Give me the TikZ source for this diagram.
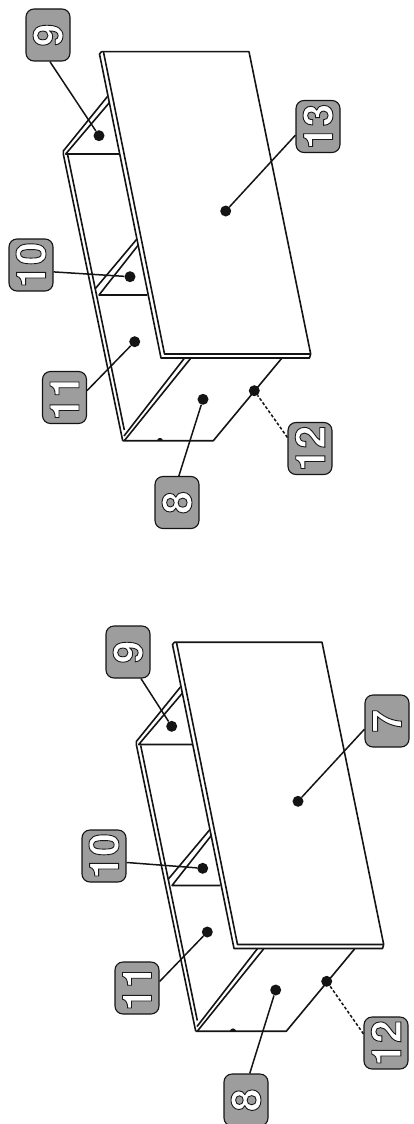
\documentclass[tikz,border=0pt]{standalone}
\usepackage{graphicx,color}
\usepackage{fontspec}
\setmainfont{TeX Gyre Heros}
\definecolor{tagfill}{RGB}{156,157,156}
\definecolor{inkline}{RGB}{20,20,20}
\newcommand{\tagnum}[1]{\rotatebox{90}{\fontsize{41}{41}\bfseries\selectfont\special{pdf:code q 2 Tr 0.9 w 0.1 G 1 g}#1\special{pdf:code Q}}}
\newcommand{\cabinet}{%
	\draw[edge] (101.5,51.7) -- (249,51.7) -- (310.7,354) -- (309.5,358) -- (161,358) -- (99.5,54) -- cycle;
	\draw[edge] (103.5,52) -- (164.5,354) -- (310.7,354);
	\draw[edge] (107.3,96.7) -- (63.3,151) -- (63.3,154) -- (122.7,440.7);
	\draw[edge] (109.3,102.7) -- (65.7,154) -- (119.3,154);
	\draw[edge] (67.7,155) -- (124.3,430);
	\draw[edge] (136.7,239.3) -- (95,289);
	\draw[edge] (138.3,245) -- (99,295) -- (147.3,295);
	\draw[edge] (184.3,358.3) -- (124,436);
	\draw[edge] (190.7,358.3) -- (124.3,440.7);
	\draw[edge] (122.7,440.7) -- (213.3,440.7) -- (281.7,358.3);
	\fill[inkline] (157,440.7) arc (180:360:3 and 2.8) -- cycle;
}
\tikzset{
	edge/.style={inkline, line width=1.6pt, line join=round},
	lead/.style={inkline, line width=1.5pt},
	tag/.style={draw=inkline, line width=1.1pt, fill=tagfill, rounded corners=8pt, minimum width=44pt, minimum height=52pt, inner sep=0pt},
	dot/.style={circle, fill=inkline, minimum size=11pt, inner sep=0pt}
}

\begin{document}
\begin{tikzpicture}[x=1pt, y=-1pt]
	\useasboundingbox (0,0) rectangle (414,1124);
	% upper cabinet
	\cabinet
	\node[dot] (dotAnine) at (99,135.7) {};
	\node[dot] (dotAthirteen) at (225.7,211) {};
	\node[dot] (dotAten) at (130,276.7) {};
	\node[dot] (dotAeleven) at (134.7,341.7) {};
	\node[dot] (dotAeight) at (203,399.3) {};
	\node[dot] (dotAtwelve) at (254.3,390.7) {};
	\node[tag] (tagAnine) at (48,35) {\tagnum{9}};
	\node[tag] (tagAthirteen) at (318,126.5) {\tagnum{13}};
	\node[tag] (tagAten) at (31,265) {\tagnum{10}};
	\node[tag] (tagAeleven) at (64.5,397.5) {\tagnum{11}};
	\node[tag] (tagAeight) at (177,502.5) {\tagnum{8}};
	\node[tag] (tagAtwelve) at (310,448.5) {\tagnum{12}};
	\draw[lead] (tagAnine.274) -- (dotAnine);
	\draw[lead] (tagAthirteen.201) -- (dotAthirteen);
	\draw[lead] (tagAten.343) -- (dotAten);
	\draw[lead] (tagAeleven.17) -- (dotAeleven);
	\draw[lead] (tagAeight.86) -- (dotAeight);
	\draw[lead, dash pattern=on 3pt off 2pt] (tagAtwelve.154) -- (dotAtwelve);
	% lower cabinet
	\begin{scope}[shift={(73,590.5)}]
		\cabinet
	\end{scope}
	\node[dot] (dotBnine) at (171.7,726.3) {};
	\node[dot] (dotBseven) at (298,801.3) {};
	\node[dot] (dotBten) at (202.7,868.3) {};
	\node[dot] (dotBeleven) at (207.3,932) {};
	\node[dot] (dotBeight) at (275.7,990) {};
	\node[dot] (dotBtwelve) at (326.7,981.3) {};
	\node[tag] (tagBnine) at (128,652) {\tagnum{9}};
	\node[tag] (tagBseven) at (387,721) {\tagnum{7}};
	\node[tag] (tagBten) at (104,856) {\tagnum{10}};
	\node[tag] (tagBeleven) at (137,988) {\tagnum{11}};
	\node[tag] (tagBeight) at (246,1100) {\tagnum{8}};
	\node[tag] (tagBtwelve) at (386,1043) {\tagnum{12}};
	\draw[lead] (tagBnine.296) -- (dotBnine);
	\draw[lead] (tagBseven.200) -- (dotBseven);
	\draw[lead] (tagBten.344) -- (dotBten);
	\draw[lead] (tagBeleven.16) -- (dotBeleven);
	\draw[lead] (tagBeight.82) -- (dotBeight);
	\draw[lead, dash pattern=on 3pt off 2pt] (tagBtwelve.158) -- (dotBtwelve);
\end{tikzpicture}
\end{document}
